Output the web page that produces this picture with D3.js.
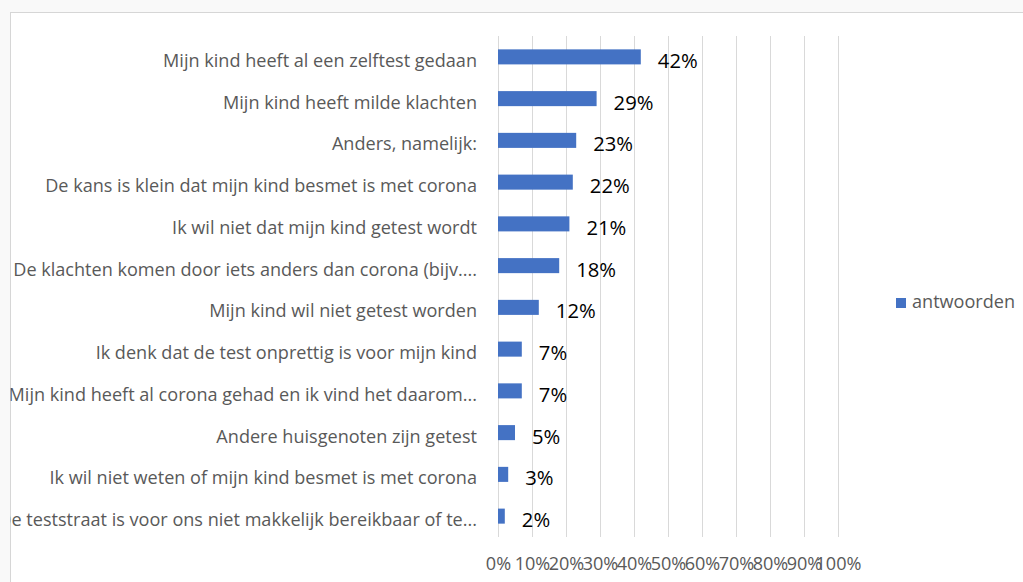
<!DOCTYPE html>
<html><head><meta charset="utf-8">
<script src="https://cdn.jsdelivr.net/npm/d3@7"></script>
<style>
html,body{margin:0;padding:0;background:#f9f9f9;}
svg{display:block;}
</style></head>
<body>
<svg id="chart" width="1023" height="582"></svg>
<script>
const categories = [
  "Mijn kind heeft al een zelftest gedaan",
  "Mijn kind heeft milde klachten",
  "Anders, namelijk:",
  "De kans is klein dat mijn kind besmet is met corona",
  "Ik wil niet dat mijn kind getest wordt",
  "De klachten komen door iets anders dan corona (bijv....",
  "Mijn kind wil niet getest worden",
  "Ik denk dat de test onprettig is voor mijn kind",
  "Mijn kind heeft al corona gehad en ik vind het daarom...",
  "Andere huisgenoten zijn getest",
  "Ik wil niet weten of mijn kind besmet is met corona",
  "De teststraat is voor ons niet makkelijk bereikbaar of te..."
];
const values = [0.42, 0.29, 0.23, 0.22, 0.21, 0.18, 0.12, 0.07, 0.07, 0.05, 0.03, 0.02];
const valueLabels = ["42%", "29%", "23%", "22%", "21%", "18%", "12%", "7%", "7%", "5%", "3%", "2%"];
const tickValues = [0, 0.1, 0.2, 0.3, 0.4, 0.5, 0.6, 0.7, 0.8, 0.9, 1.0];
const tickLabels = ["0%", "10%", "20%", "30%", "40%", "50%", "60%", "70%", "80%", "90%", "100%"];
const seriesName = "antwoorden";

const svg = d3.select("#chart");
const font = "'Open Sans', Lato, sans-serif";
const barColor = "#4472C4";

// chart area border
svg.append("defs").append("clipPath").attr("id", "clipArea")
  .append("rect").attr("x", 10.5).attr("y", 12.5).attr("width", 1020).attr("height", 580);
svg.append("rect").attr("x", 10.5).attr("y", 12.5).attr("width", 1020).attr("height", 580)
  .attr("fill", "#ffffff").attr("stroke", "#d6d6d6").attr("stroke-width", 1);

const g = svg.append("g").attr("clip-path", "url(#clipArea)");

const x = d3.scaleLinear().domain([0, 1]).range([498, 838]);
const y = d3.scaleBand().domain(categories).range([36, 537]).paddingInner(0.64).paddingOuter(0.32);

// gridlines
g.append("g").selectAll("line").data(tickValues).join("line")
  .attr("x1", d => Math.round(x(d)) + 0.5).attr("x2", d => Math.round(x(d)) + 0.5)
  .attr("y1", 36).attr("y2", 537)
  .attr("stroke", "#d9d9d9").attr("stroke-width", 1);

// bars
g.append("g").selectAll("rect").data(values).join("rect")
  .attr("x", x(0))
  .attr("y", (d, i) => y(categories[i]))
  .attr("width", d => x(d) - x(0))
  .attr("height", y.bandwidth())
  .attr("fill", barColor);

// category labels
const catLabels = g.append("g").selectAll("text").data(categories).join("text")
  .attr("x", 477)
  .attr("y", d => y(d) + y.bandwidth() / 2 + 10)
  .attr("text-anchor", "end")
  .attr("font-family", font).attr("font-size", 16)
  .attr("fill", "#595959")
  .text(d => d);
// fit the font so the first label spans the same width as in the reference
const w0 = catLabels.node().getComputedTextLength();
const labelSize = 16 * 314 / w0;
catLabels.attr("font-size", labelSize);

// value labels
g.append("g").selectAll("text").data(values).join("text")
  .attr("x", d => x(d) + 17)
  .attr("y", (d, i) => y(categories[i]) + y.bandwidth() / 2 + 11)
  .attr("font-family", font).attr("font-size", labelSize * 1.12)
  .attr("fill", "#000000")
  .text((d, i) => valueLabels[i]);

// x axis labels
const axis = d3.axisBottom(x).tickValues(tickValues)
  .tickFormat((d, i) => tickLabels[i]).tickSize(0).tickPadding(0);
const ax = g.append("g").attr("transform", "translate(0,557)").call(axis);
ax.select(".domain").remove();
ax.selectAll("text").attr("font-family", font).attr("font-size", labelSize)
  .attr("fill", "#595959").attr("dy", "0.71em");

// legend
const leg = g.append("g");
leg.append("rect").attr("x", 896).attr("y", 298).attr("width", 10).attr("height", 10).attr("fill", barColor);
leg.append("text").attr("x", 912).attr("y", 308).attr("font-family", font).attr("font-size", labelSize)
  .attr("fill", "#595959").text(seriesName);
</script>
</body></html>
